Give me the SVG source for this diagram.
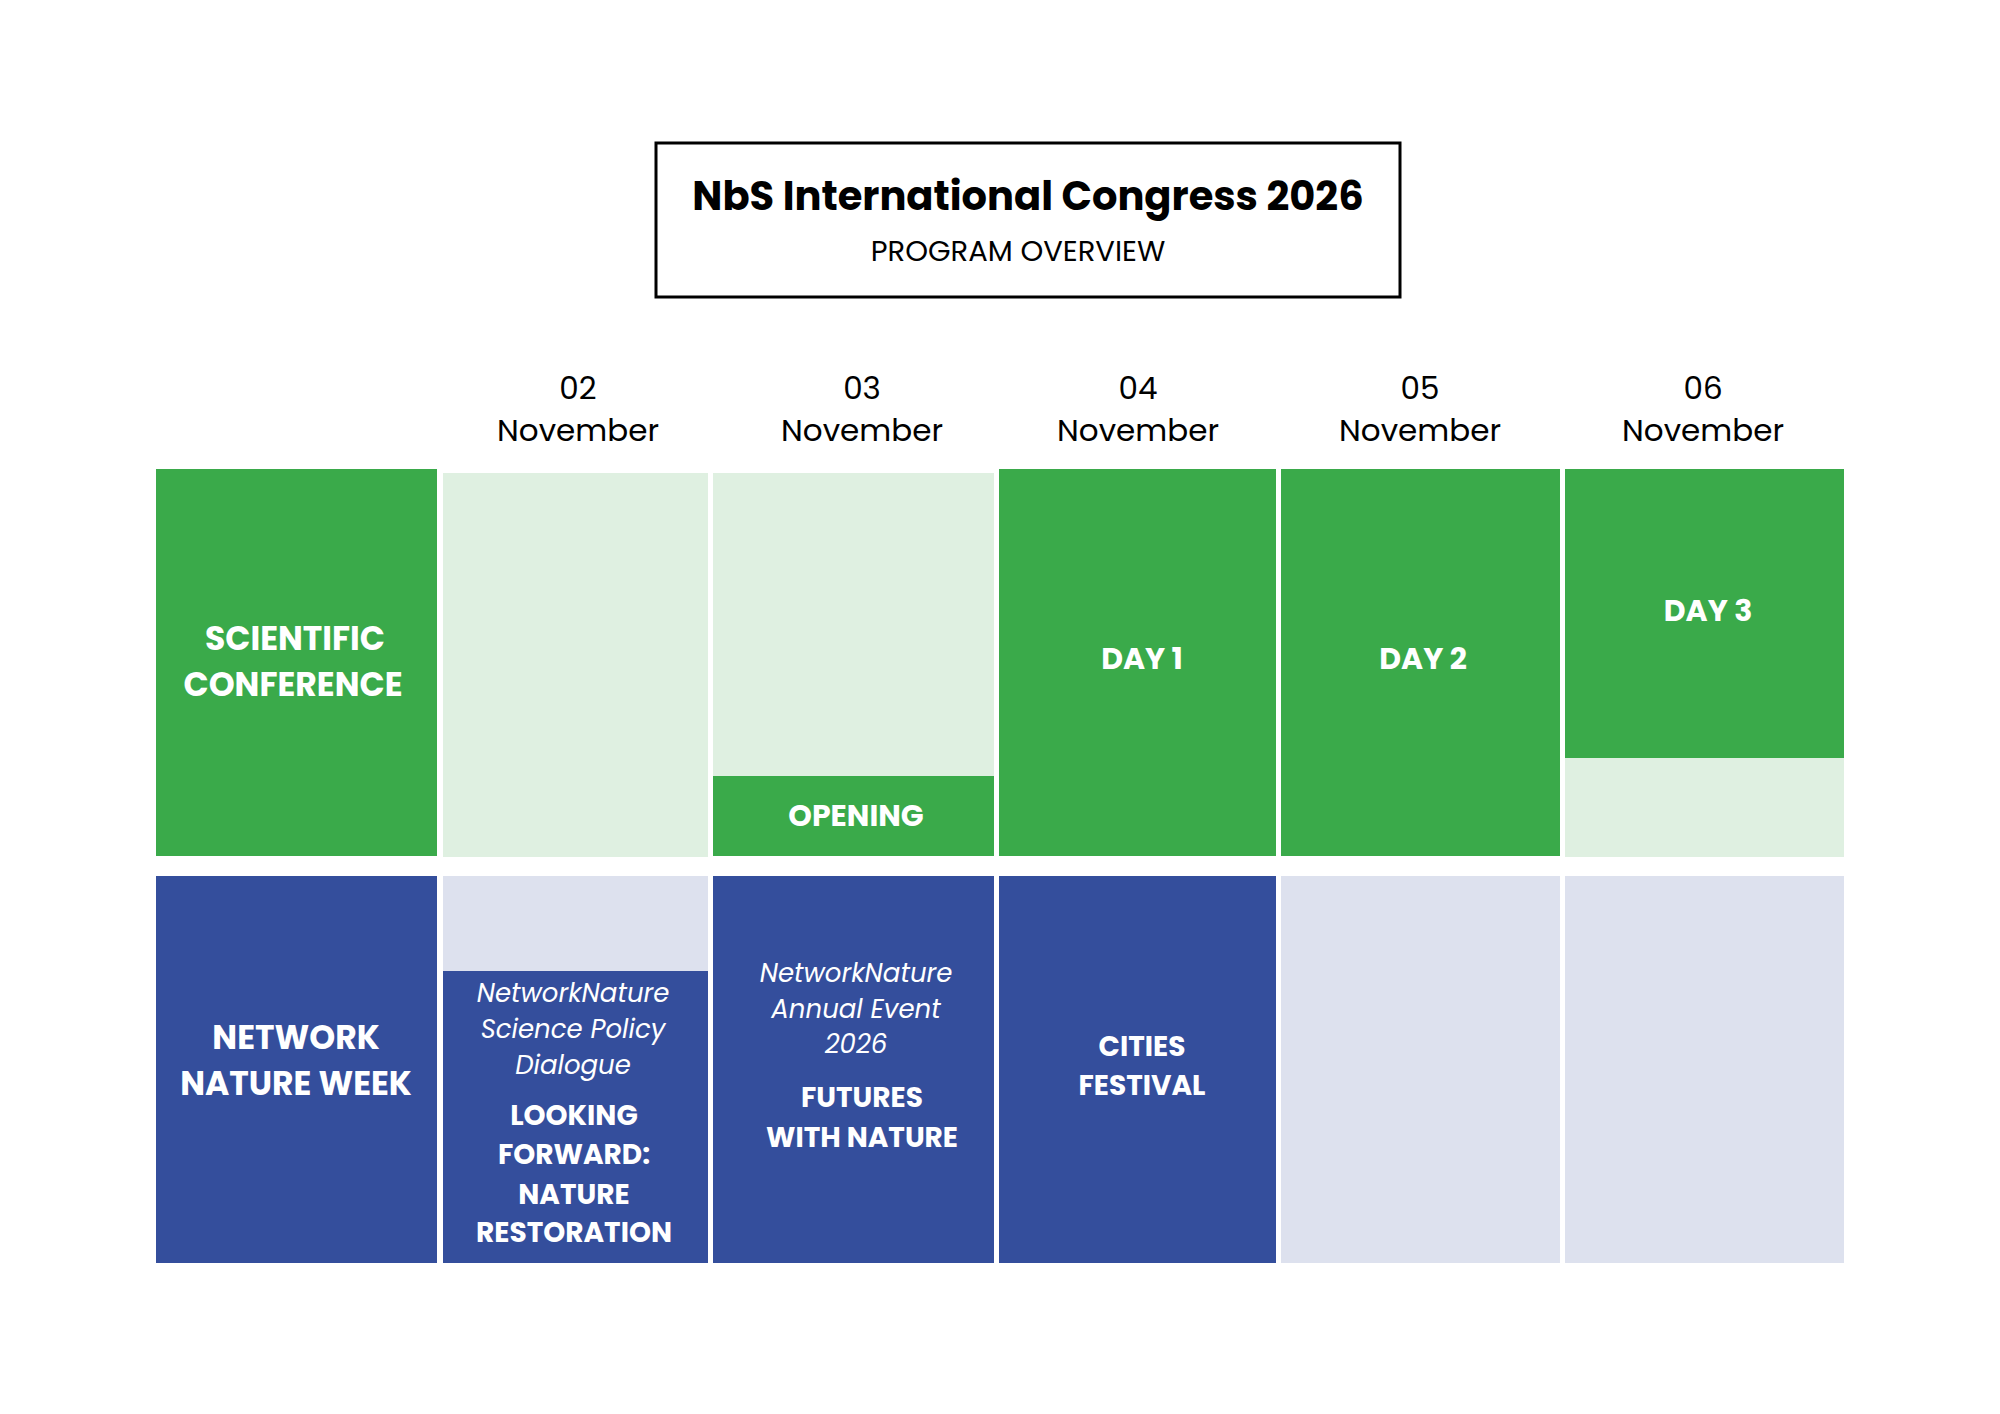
<svg xmlns="http://www.w3.org/2000/svg" width="2000" height="1414" viewBox="0 0 2000 1414">
<style>
text{font-family:"Poppins","Lato","Liberation Sans",sans-serif;text-anchor:middle}
.g{fill:#3AAA4A}.lg{fill:#DFF0E1}.b{fill:#344E9C}.lb{fill:#DDE1EE}
.w{fill:#fff;font-weight:bold;font-size:30px}
.wl{fill:#fff;font-weight:bold;font-size:33px}
.ws{fill:#fff;font-weight:bold;font-size:28px}
.wi{fill:#fff;font-style:italic;font-size:26px}
.d{fill:#000;font-size:31px}
</style>
<rect width="2000" height="1414" fill="#fff"/>
<g id="title">
<rect x="656" y="143" width="744" height="154" fill="#fff" stroke="#000" stroke-width="3"/>
<text x="1028" y="210" font-size="40" font-weight="bold" fill="#000">NbS International Congress 2026</text>
<text x="1018" y="261" font-size="29" fill="#000">PROGRAM OVERVIEW</text>
</g>
<g id="dates">
<text class="d" x="578" y="399">02</text><text class="d" x="578" y="441">November</text>
<text class="d" x="862" y="399">03</text><text class="d" x="862" y="441">November</text>
<text class="d" x="1138" y="399">04</text><text class="d" x="1138" y="441">November</text>
<text class="d" x="1420" y="399">05</text><text class="d" x="1420" y="441">November</text>
<text class="d" x="1703" y="399">06</text><text class="d" x="1703" y="441">November</text>
</g>
<g id="sci">
<rect class="g" x="156" y="469" width="281" height="387"/>
<text class="wl" x="295" y="650">SCIENTIFIC</text><text class="wl" x="293" y="696">CONFERENCE</text>
</g>
<g id="sci-02"><rect class="lg" x="443" y="473" width="265" height="384"/></g>
<g id="sci-03"><rect class="lg" x="713" y="473" width="281" height="303"/><rect class="g" x="713" y="776" width="281" height="80"/>
<text class="w" x="856" y="826">OPENING</text></g>
<g id="day1"><rect class="g" x="999" y="469" width="277" height="387"/><text class="w" x="1142" y="669">DAY 1</text></g>
<g id="day2"><rect class="g" x="1281" y="469" width="279" height="387"/><text class="w" x="1423" y="669">DAY 2</text></g>
<g id="day3"><rect class="g" x="1565" y="469" width="279" height="289"/><rect class="lg" x="1565" y="758" width="279" height="99"/><text class="w" x="1708" y="621">DAY 3</text></g>
<g id="nnw">
<rect class="b" x="156" y="876" width="281" height="387"/>
<text class="wl" x="296" y="1049">NETWORK</text><text class="wl" x="296" y="1095">NATURE WEEK</text>
</g>
<g id="nnw-02"><rect class="lb" x="443" y="876" width="265" height="95"/><rect class="b" x="443" y="971" width="265" height="292"/>
<text class="wi" x="573" y="1002">NetworkNature</text><text class="wi" x="573" y="1038">Science Policy</text><text class="wi" x="573" y="1074">Dialogue</text>
<text class="ws" x="574" y="1125">LOOKING</text><text class="ws" x="574" y="1164">FORWARD:</text><text class="ws" x="574" y="1204">NATURE</text><text class="ws" x="574" y="1242">RESTORATION</text></g>
<g id="nnw-03"><rect class="b" x="713" y="876" width="281" height="387"/>
<text class="wi" x="856" y="982">NetworkNature</text><text class="wi" x="856" y="1018">Annual Event</text><text class="wi" x="856" y="1053">2026</text>
<text class="ws" x="862" y="1107">FUTURES</text><text class="ws" x="862" y="1147">WITH NATURE</text></g>
<g id="nnw-04"><rect class="b" x="999" y="876" width="277" height="387"/>
<text class="ws" x="1142" y="1056">CITIES</text><text class="ws" x="1142" y="1095">FESTIVAL</text></g>
<g id="nnw-05"><rect class="lb" x="1281" y="876" width="279" height="387"/></g>
<g id="nnw-06"><rect class="lb" x="1565" y="876" width="279" height="387"/></g>
<g id="connectors"/>
</svg>
